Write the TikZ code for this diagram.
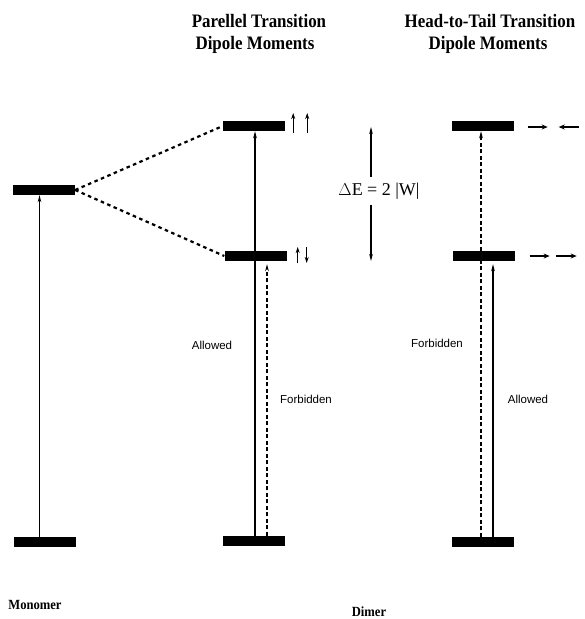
\documentclass[tikz,border=0pt]{standalone}
\usepackage{fontspec}
\usepackage{graphicx}
\setmainfont{Liberation Serif}
\newfontfamily\labelfont{Liberation Sans}
\usetikzlibrary{arrows.meta}
\begin{document}
\begin{tikzpicture}[x=1pt,y=-1pt,
  level/.style={fill=black, draw=none, minimum width=62pt, minimum height=10pt, inner sep=0pt},
  trans/.style={line width=1.1pt, -{Stealth[length=7pt,width=3.6pt]}},
  dtrans/.style={trans, dash pattern=on 4pt off 2.5pt},
  dotline/.style={line width=2.2pt, dash pattern=on 3.5pt off 3.5pt},
  spin/.style={line width=1.3pt, -{Stealth[length=6pt,width=4pt]}},
  hspin/.style={line width=2.2pt, -{Stealth[length=6pt,width=5pt]}},
  title/.style={font=\fontsize{19}{22}\selectfont\bfseries, inner sep=0pt, anchor=base},
  lbl/.style={font=\labelfont\fontsize{11.5}{13}\selectfont, inner sep=0pt},
  bottom/.style={font=\fontsize{14}{16}\selectfont\bfseries, inner sep=0pt, anchor=base}
]
\useasboundingbox (0,0) rectangle (585,619);

% titles
\node[title] (t1a) at (259,27) {\scalebox{0.89}[1]{Parellel Transition}};
\node[title] (t1b) at (255,49) {\scalebox{0.89}[1]{Dipole Moments}};
\node[title] (t2a) at (490,27) {\scalebox{0.89}[1]{Head-to-Tail Transition}};
\node[title] (t2b) at (488,49) {\scalebox{0.89}[1]{Dipole Moments}};

% energy levels
\node[level] (mg) at (44.5,542) {};
\node[level] (me) at (44,190) {};
\node[level] (pu) at (254,126) {};
\node[level] (pl) at (255.5,256) {};
\node[level] (pg) at (253.5,541) {};
\node[level] (hu) at (482.5,126) {};
\node[level] (hl) at (483.5,256) {};
\node[level] (hg) at (482.5,542) {};

% dotted correlation lines
\draw[dotline] (me.east) -- (pu.west);
\draw[dotline] (me.east) -- (pl.west);

% monomer transition
\draw[trans] ([xshift=-5pt]mg.north) -- ([xshift=-5pt]mg.north |- me.south);

% parallel transitions
\draw[trans] ([xshift=1.5pt]pg.north) -- ([xshift=1.5pt]pg.north |- pu.south);
\draw[dtrans, shorten >=3pt] ([xshift=13.5pt]pg.north) -- ([xshift=13.5pt]pg.north |- pl.south);

% head-to-tail transitions
\draw[dtrans] ([xshift=-1.5pt]hg.north) -- ([xshift=-1.5pt]hg.north |- hu.south);
\draw[trans, shorten >=3pt] ([xshift=10.5pt]hg.north) -- ([xshift=10.5pt]hg.north |- hl.south);

% spin / dipole arrows, parallel
\draw[spin] ([xshift=8pt,yshift=-7pt]pu.east) -- ([xshift=8pt,yshift=13pt]pu.east);
\draw[spin] ([xshift=22pt,yshift=-7pt]pu.east) -- ([xshift=22pt,yshift=13pt]pu.east);
\draw[spin] ([xshift=11pt,yshift=-7pt]pl.east) -- ([xshift=11pt,yshift=9pt]pl.east);
\draw[spin] ([xshift=20pt,yshift=9pt]pl.east) -- ([xshift=20pt,yshift=-7pt]pl.east);

% dipole arrows, head-to-tail
\draw[hspin] ([xshift=14pt,yshift=-1pt]hu.east) -- ([xshift=34pt,yshift=-1pt]hu.east);
\draw[hspin] ([xshift=65pt,yshift=-1pt]hu.east) -- ([xshift=45pt,yshift=-1pt]hu.east);
\draw[hspin] ([xshift=15pt]hl.east) -- ([xshift=35pt]hl.east);
\draw[hspin] ([xshift=41pt]hl.east) -- ([xshift=62pt]hl.east);

% splitting
\coordinate (dEt) at (371,127);
\coordinate (dEb) at (371,261);
\draw[line width=1.1pt, {Stealth[length=7pt,width=3.6pt]}-{Stealth[length=7pt,width=3.6pt]}] (dEt) -- (dEb);
\node[fill=white, inner xsep=1pt, inner ysep=6pt, font=\fontsize{18}{20}\selectfont] (dE) at (379,191) {$\Delta$E = 2 |W|};

% labels
\node[lbl] (al1) at (212,345) {Allowed};
\node[lbl] (fb1) at (306,399) {Forbidden};
\node[lbl] (fb2) at (437,343) {Forbidden};
\node[lbl] (al2) at (528,399) {Allowed};

\node[bottom] (mono) at (35,609) {\scalebox{0.9}[1]{Monomer}};
\node[bottom] (dim) at (369,616) {\scalebox{0.9}[1]{Dimer}};
\end{tikzpicture}
\end{document}
